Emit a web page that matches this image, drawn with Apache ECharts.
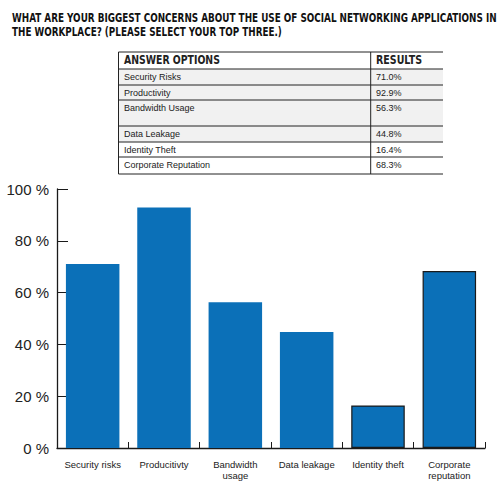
<!DOCTYPE html>
<html>
<head>
<meta charset="utf-8">
<script src="https://cdn.jsdelivr.net/npm/echarts@6/dist/echarts.min.js"></script>
<style>
html,body{margin:0;padding:0;background:#fff;}
#c{width:504px;height:487px;}
</style>
</head>
<body>
<div id="c"></div>
<script>
// ---- data ----
var titleLines = [
  'WHAT ARE YOUR BIGGEST CONCERNS ABOUT THE USE OF SOCIAL NETWORKING APPLICATIONS IN',
  'THE WORKPLACE? (PLEASE SELECT YOUR TOP THREE.)'
];
var tableHeaders = ['ANSWER OPTIONS', 'RESULTS'];
var tableOptions = ['Security Risks', 'Productivity', 'Bandwidth Usage', 'Data Leakage', 'Identity Theft', 'Corporate Reputation'];
var tableResults = ['71.0%', '92.9%', '56.3%', '44.8%', '16.4%', '68.3%'];
var categories = ['Security risks', 'Producitivty', 'Bandwidth\nusage', 'Data leakage', 'Identity theft', 'Corporate\nreputation'];
var values = [71.0, 92.9, 56.3, 44.8, 16.4, 68.3];
var yTicks = [0, 20, 40, 60, 80, 100];

// ---- layout helpers ----
var condFont = '"Liberation Sans Narrow", "DejaVu Sans Condensed", "Liberation Sans", sans-serif';
var bodyFont = '"Liberation Sans", Arial, sans-serif';
var ctx = document.createElement('canvas').getContext('2d');
function measure(text, size, weight, family) {
  ctx.font = weight + ' ' + size + 'px ' + family;
  return ctx.measureText(text).width;
}
function fitText(text, x, y, width, size, fill) {
  var w = measure(text, size, 'bold', condFont);
  return {
    type: 'text', x: x, y: y, scaleX: width / w, scaleY: 1,
    style: { text: text, x: 0, y: 0, fill: fill || '#111', fontSize: size, fontWeight: 'bold',
             fontFamily: condFont, verticalAlign: 'middle', align: 'left' },
    silent: true
  };
}

var graphics = [];
// title
graphics.push(fitText(titleLines[0], 12, 17, 485, 13));
graphics.push(fitText(titleLines[1], 12, 31.5, 270, 13));

// table
var tLeft = 118.5, tDiv = 370.7, tRight = 443;
var rowBounds = [52, 69, 85, 100, 126, 142, 157, 174];
var shaded = [true, true, true, true, false, false];
for (var i = 0; i < tableOptions.length; i++) {
  if (shaded[i]) {
    graphics.push({ type: 'rect', shape: { x: tLeft, y: rowBounds[i + 1], width: tRight - tLeft, height: rowBounds[i + 2] - rowBounds[i + 1] },
      style: { fill: '#f1f1f1' }, silent: true });
  }
}
rowBounds.forEach(function (yy) {
  graphics.push({ type: 'line', shape: { x1: tLeft, y1: yy, x2: tRight, y2: yy }, style: { stroke: '#222', lineWidth: 1 }, silent: true });
});
graphics.push({ type: 'line', shape: { x1: tLeft, y1: rowBounds[0], x2: tLeft, y2: rowBounds[rowBounds.length - 1] }, style: { stroke: '#222', lineWidth: 1 }, silent: true });
graphics.push({ type: 'line', shape: { x1: tDiv, y1: rowBounds[0], x2: tDiv, y2: rowBounds[rowBounds.length - 1] }, style: { stroke: '#222', lineWidth: 1 }, silent: true });
graphics.push(fitText(tableHeaders[0], 124, 60.5, 96, 12, '#222'));
graphics.push(fitText(tableHeaders[1], 376, 60.5, 46, 12, '#222'));
for (var r = 0; r < tableOptions.length; r++) {
  var cy = rowBounds[r + 1] + 8;
  graphics.push({ type: 'text', x: 124, y: cy, style: { text: tableOptions[r], fill: '#222', fontSize: 9, fontFamily: bodyFont, verticalAlign: 'middle' }, silent: true });
  graphics.push({ type: 'text', x: 376, y: cy, style: { text: tableResults[r], fill: '#222', fontSize: 9, fontFamily: bodyFont, verticalAlign: 'middle' }, silent: true });
}

var barBlue = '#0b70b8';
var outlined = { 4: true, 5: true };
var seriesData = values.map(function (v, i) {
  return outlined[i] ? { value: v, itemStyle: { borderColor: '#1a1a1a', borderWidth: 1.2 } } : v;
});

var chart = echarts.init(document.getElementById('c'), null, { renderer: 'svg' });
chart.setOption({
  animation: false,
  backgroundColor: '#fff',
  graphic: graphics,
  grid: { left: 57, right: 19, top: 189, bottom: 39, containLabel: false },
  xAxis: {
    type: 'category',
    data: categories,
    axisLine: { lineStyle: { color: '#1a1a1a', width: 1.3 } },
    axisTick: { show: true, inside: true, length: 6, alignWithLabel: false, lineStyle: { color: '#1a1a1a', width: 1 } },
    axisLabel: { color: '#222', fontSize: 9.5, lineHeight: 11, margin: 11, interval: 0, fontFamily: bodyFont }
  },
  yAxis: {
    type: 'value',
    min: yTicks[0], max: yTicks[yTicks.length - 1], interval: yTicks[1] - yTicks[0],
    axisLine: { show: true, lineStyle: { color: '#1a1a1a', width: 1.3 } },
    axisTick: { show: true, inside: true, length: 11, lineStyle: { color: '#1a1a1a', width: 1 } },
    splitLine: { show: false },
    axisLabel: { formatter: '{value} %', color: '#222', fontSize: 15, margin: 8, fontFamily: bodyFont }
  },
  series: [{
    type: 'bar',
    data: seriesData,
    barCategoryGap: '25%',
    itemStyle: { color: barBlue },
    silent: true
  }]
});
</script>
</body>
</html>
